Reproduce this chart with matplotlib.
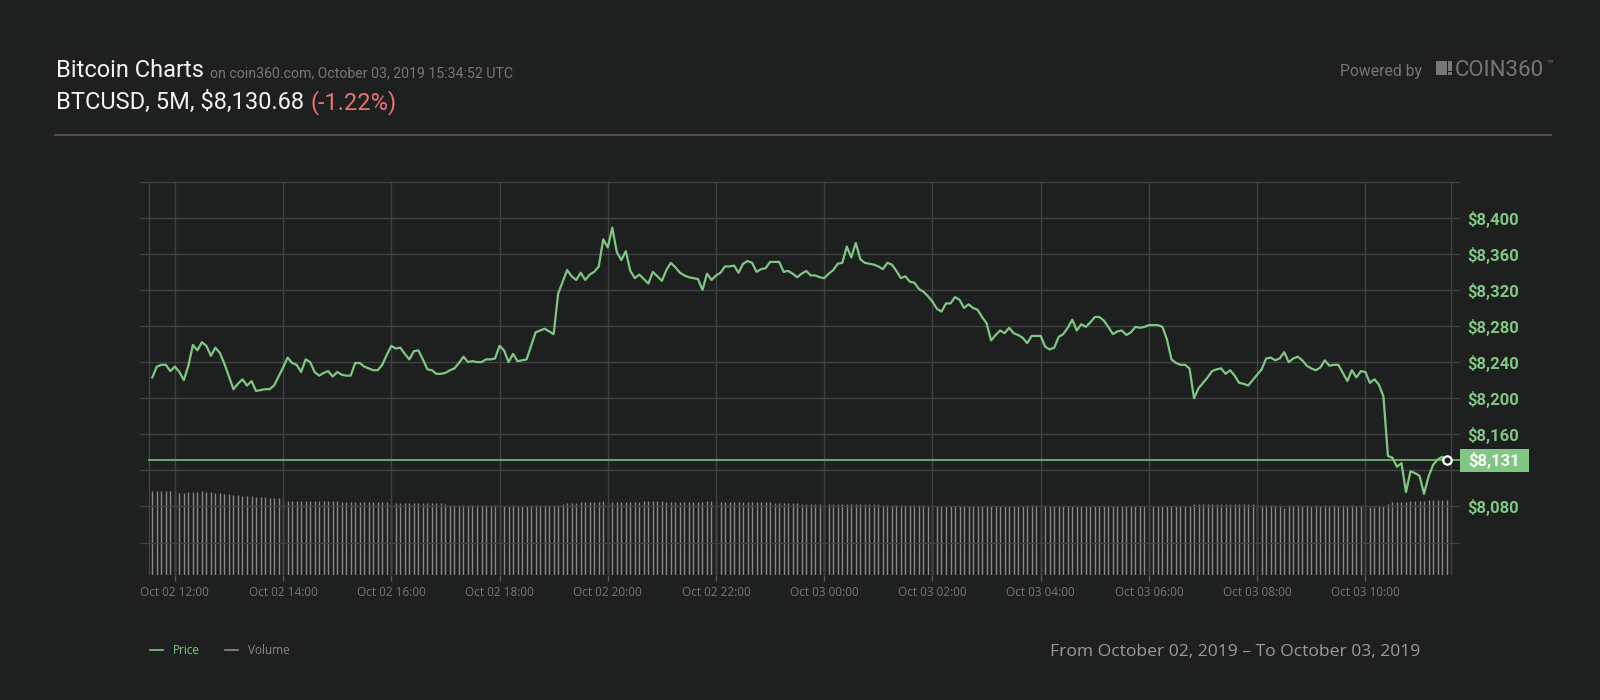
import pandas as pd
import matplotlib
matplotlib.use("Agg")
import matplotlib.pyplot as plt
import matplotlib.dates as mdates
from matplotlib.lines import Line2D
from matplotlib.patches import Rectangle

plt.rcParams['font.family'] = ['Roboto', 'DejaVu Sans']

# 5 minute BTCUSD closes, Oct 02 11:35 -> Oct 03 11:30
price = [
    8223, 8235, 8237, 8237, 8230, 8235, 8229, 8220, 8236, 8259,
    8253, 8262, 8258, 8247, 8256, 8250, 8238, 8224, 8210, 8216,
    8221, 8214, 8219, 8208, 8209, 8210, 8210, 8214, 8224, 8234,
    8245, 8239, 8237, 8229, 8243, 8240, 8229, 8225, 8228, 8230,
    8224, 8229, 8226, 8225, 8225, 8239, 8239, 8235, 8233, 8231,
    8231, 8237, 8248, 8258, 8255, 8256, 8249, 8243, 8252, 8253,
    8243, 8232, 8231, 8227, 8227, 8228, 8231, 8233, 8239, 8246,
    8240, 8241, 8240, 8240, 8243, 8243, 8244, 8258, 8253, 8240,
    8249, 8241, 8242, 8243, 8258, 8273, 8275, 8277, 8274, 8271,
    8316, 8329, 8342, 8335, 8331, 8339, 8331, 8337, 8340, 8346,
    8376, 8367, 8389, 8362, 8353, 8363, 8341, 8333, 8337, 8332,
    8327, 8340, 8335, 8330, 8342, 8350, 8345, 8339, 8336, 8334,
    8333, 8332, 8320, 8338, 8331, 8336, 8339, 8346, 8346, 8347,
    8339, 8349, 8352, 8350, 8340, 8343, 8344, 8351, 8351, 8351,
    8340, 8341, 8338, 8334, 8338, 8341, 8336, 8336, 8334, 8333,
    8338, 8342, 8349, 8350, 8368, 8356, 8372, 8354, 8350, 8349,
    8348, 8346, 8343, 8350, 8348, 8341, 8333, 8335, 8329, 8328,
    8321, 8318, 8313, 8307, 8299, 8296, 8305, 8305, 8312, 8309,
    8300, 8304, 8300, 8298, 8290, 8283, 8264, 8270, 8275, 8272,
    8278, 8272, 8270, 8267, 8261, 8269, 8269, 8269, 8257, 8254,
    8256, 8268, 8271, 8278, 8287, 8275, 8282, 8279, 8284, 8290,
    8290, 8286, 8279, 8271, 8274, 8275, 8270, 8273, 8279, 8278,
    8279, 8281, 8281, 8281, 8279, 8265, 8243, 8239, 8237, 8237,
    8233, 8200, 8211, 8217, 8223, 8230, 8232, 8233, 8227, 8231,
    8225, 8217, 8216, 8214, 8220, 8226, 8232, 8244, 8245, 8242,
    8244, 8251, 8240, 8244, 8246, 8242, 8236, 8233, 8231, 8234,
    8242, 8236, 8237, 8237, 8228, 8219, 8231, 8223, 8230, 8229,
    8217, 8221, 8215, 8202, 8136, 8134, 8124, 8128, 8096, 8119,
    8117, 8114, 8094, 8113, 8126, 8132, 8135, 8131,
]

# volume bar heights (relative, no axis in the original)
volume = [
    84, 84, 84, 84, 84, 84, 82, 82, 83, 83,
    83, 84, 83, 83, 82, 82, 81, 81, 80, 80,
    79, 79, 79, 78, 78, 78, 77, 77, 77, 76,
    74, 74, 74, 74, 74, 74, 74, 74, 74, 74,
    74, 74, 73, 73, 73, 73, 73, 73, 73, 73,
    73, 73, 73, 72, 72, 72, 72, 72, 72, 72,
    72, 72, 72, 72, 72, 71, 70, 70, 70, 70,
    70, 70, 70, 70, 70, 70, 70, 69, 69, 69,
    70, 69, 69, 69, 70, 70, 70, 70, 70, 70,
    70, 71, 72, 72, 72, 73, 73, 73, 73, 73,
    74, 73, 73, 73, 73, 73, 73, 73, 73, 74,
    74, 74, 74, 74, 73, 73, 73, 73, 73, 73,
    73, 73, 73, 74, 74, 73, 73, 73, 73, 73,
    73, 73, 73, 73, 73, 73, 73, 73, 72, 72,
    72, 72, 72, 72, 71, 71, 71, 71, 71, 71,
    71, 71, 71, 71, 71, 71, 71, 71, 71, 71,
    71, 71, 70, 70, 70, 70, 70, 70, 70, 70,
    70, 70, 69, 69, 69, 69, 69, 69, 69, 69,
    69, 69, 69, 69, 69, 69, 69, 69, 69, 69,
    69, 69, 69, 69, 70, 70, 70, 69, 69, 69,
    69, 69, 69, 69, 69, 69, 69, 69, 69, 69,
    69, 69, 69, 69, 69, 69, 69, 69, 69, 69,
    69, 69, 69, 69, 69, 69, 69, 69, 69, 69,
    69, 71, 71, 71, 71, 71, 71, 71, 71, 71,
    71, 71, 71, 71, 71, 71, 70, 70, 70, 70,
    70, 67, 70, 69, 70, 69, 70, 69, 70, 69,
    70, 69, 70, 69, 70, 69, 70, 69, 69, 68,
    68, 68, 69, 69, 71, 73, 73, 73, 73, 74,
    74, 74, 74, 75, 75, 75, 75, 75,
]

times = pd.date_range('2019-10-02 11:35', periods=len(price), freq='5min')
tick_times = pd.date_range('2019-10-02 12:00', '2019-10-03 10:00', freq='2h')
grid_prices = list(range(8040, 8441, 40))
label_prices = [8080, 8160, 8200, 8240, 8280, 8320, 8360, 8400]
last_price = 8131

BG = '#1e1f1f'
GREEN = '#81c784'
GRID = '#404141'
GREY = '#777777'

W, H = 1600, 700


def fx(x):
    return x / W


def fy(y):
    return 1 - y / H


fig = plt.figure(figsize=(16, 7), dpi=100, facecolor=BG)
renderer = fig.canvas.get_renderer()


def text_after(first, gap_px, s, **kw):
    # put s right after the text artist first, gap_px pixels to the right
    bb = first.get_window_extent(renderer)
    x0, y0 = first.get_position()
    return fig.text((bb.x1 + gap_px) / W, y0, s, va='baseline', **kw)


# plot area: 140..1460 px wide, 176..575 px high
ax = fig.add_axes([fx(140), fy(575), (1460 - 140) / W, (575 - 176) / H])
ax.set_facecolor(BG)
ax2 = ax.twinx()
ax.set_zorder(ax2.get_zorder() + 1)
ax.patch.set_visible(False)

step = pd.Timedelta('5min')
ax.set_xlim(times[0] - 2.727 * step, times[0] + 289.98 * step)
ax.set_ylim(8004.1, 8446.2)
ax2.set_ylim(0, 399)

for p in grid_prices:
    ax.axhline(p, color=GRID, lw=1.0, zorder=0)

left_edge = times[0] - 0.665 * step
right_edge = times[0] + 287.9 * step
ax.vlines(list(tick_times) + [left_edge, right_edge], 8004.1, 8440, color=GRID, lw=1.0, zorder=0)

# volume bars
ax2.vlines(times, 0, volume, color='#8a8a8a', lw=1.0)
ax2.set_yticks([])

# current price line
ax.plot([left_edge, times[0] + 289.98 * step], [last_price, last_price], color='#6aa86d', lw=1.4, zorder=2)
ax.plot(times, price, color=GREEN, lw=1.6, zorder=3)
ax.plot(times[-1], price[-1], 'o', ms=6, mfc=BG, mec='white', mew=1.6, zorder=4)

for s in ax.spines.values():
    s.set_visible(False)
for s in ax2.spines.values():
    s.set_visible(False)

ax.set_xticks(tick_times)
ax.xaxis.set_major_formatter(mdates.DateFormatter('%b %d %H:%M'))
ax.tick_params(axis='x', length=4, width=1, color='#555555', colors=GREY, labelsize=8.5, pad=4)
for t in ax.get_xticklabels():
    t.set_family(['Open Sans', 'DejaVu Sans'])
    t.set_color(GREY)

ax.yaxis.tick_right()
ax.set_yticks(label_prices)
ax.set_yticklabels([f'${p:,}' for p in label_prices])
ax.tick_params(axis='y', length=0, pad=5, labelsize=12, labelcolor=GREEN)
for t in ax.get_yticklabels():
    t.set_fontweight('bold')

# last price badge
fig.add_artist(Rectangle((fx(1460), fy(472)), (1529 - 1460) / W, (472 - 449) / H,
                         transform=fig.transFigure, facecolor=GREEN, edgecolor='none'))
fig.text(fx(1468), fy(460.5), f'${last_price:,}', color='white', fontsize=12,
         fontweight='bold', va='center', ha='left')

# header
t1 = fig.text(fx(56), fy(77), 'Bitcoin Charts', color='#f2f2f2', fontsize=17, va='baseline')
text_after(t1, 6, 'on coin360.com, October 03, 2019 15:34:52 UTC', color=GREY, fontsize=10.2)
t2 = fig.text(fx(56), fy(109), 'BTCUSD, 5M, $8,130.68', color='#f2f2f2', fontsize=17, va='baseline')
text_after(t2, 7, '(-1.22%)', color='#e57373', fontsize=17)
fig.add_artist(Line2D([fx(55), fx(1551)], [fy(135), fy(135)], transform=fig.transFigure,
                      color='#555555', lw=1.3))

fig.text(fx(1340), fy(76), 'Powered by', color=GREY, fontsize=11.3, va='baseline')
fig.add_artist(Rectangle((fx(1436), fy(75)), 11 / W, 14.5 / H, transform=fig.transFigure,
                         facecolor=GREY, edgecolor='none'))
fig.add_artist(Rectangle((fx(1448), fy(70.5)), 4 / W, 9.5 / H, transform=fig.transFigure,
                         facecolor=GREY, edgecolor='none'))
fig.add_artist(Rectangle((fx(1448), fy(75)), 4 / W, 3 / H, transform=fig.transFigure,
                         facecolor=GREY, edgecolor='none'))
fig.text(fx(1455), fy(76), 'COIN360', color=GREY, fontsize=16, va='baseline')
fig.text(fx(1546), fy(66), '™', color=GREY, fontsize=7.5, va='baseline')

# legend + footer
fig.add_artist(Line2D([fx(150), fx(163)], [fy(650), fy(650)], transform=fig.transFigure,
                      color=GREEN, lw=1.2))
fig.text(fx(173), fy(650), 'Price', color=GREEN, fontsize=8.5, va='center',
         family=['Open Sans', 'DejaVu Sans'])
fig.add_artist(Line2D([fx(225), fx(238)], [fy(650), fy(650)], transform=fig.transFigure,
                      color='#8a8a8a', lw=1.2))
fig.text(fx(248), fy(650), 'Volume', color='#8a8a8a', fontsize=8.5, va='center',
         family=['Open Sans', 'DejaVu Sans'])
fig.text(fx(1050), fy(652), 'From October 02, 2019 \u2013 To October 03, 2019', color='#9a9a9a',
         fontsize=12.6, va='center', family=['Open Sans', 'DejaVu Sans'])

fig.savefig('out.png', dpi=100, facecolor=BG)
